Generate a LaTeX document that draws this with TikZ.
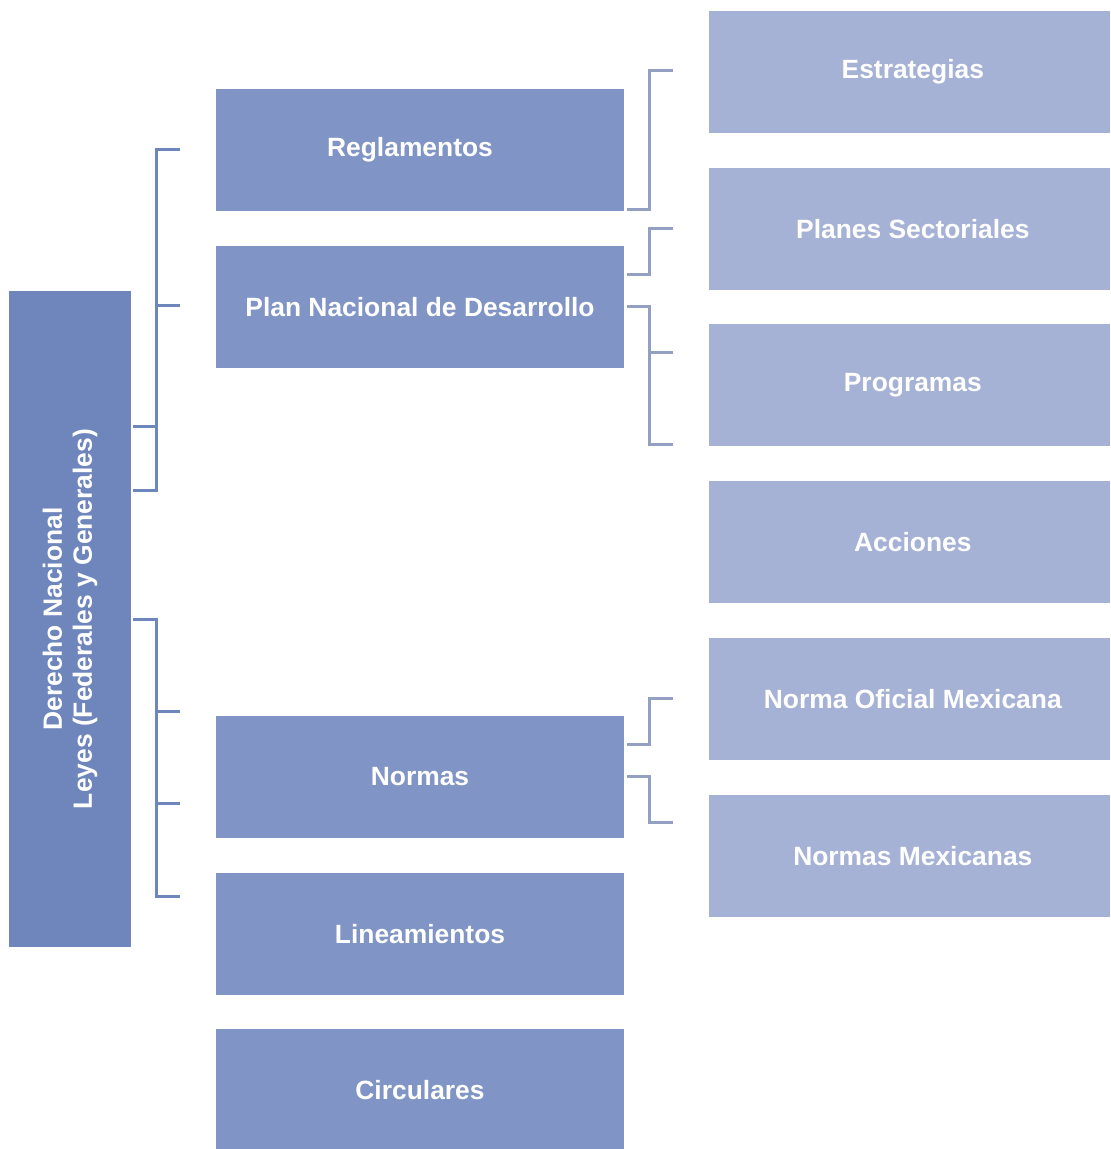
\documentclass[tikz,border=0pt]{standalone}
\usepackage{fontspec}
\setmainfont{Liberation Sans}
\usepackage{tikz}
\usetikzlibrary{positioning}
\definecolor{leftblue}{RGB}{111,134,189}
\definecolor{midblue}{RGB}{128,149,197}
\definecolor{rightblue}{RGB}{165,178,214}
\tikzset{
  mainbox/.style={rectangle, fill=leftblue, minimum width=492pt, minimum height=91.5pt,
    inner sep=0pt, text=white, font=\fontsize{19.8}{22.5}\selectfont\bfseries, align=center},
  midbox/.style={rectangle, fill=midblue, minimum width=306pt, minimum height=91.5pt,
    inner sep=0pt, text=white, font=\fontsize{19.8}{22.5}\selectfont\bfseries},
  rightbox/.style={rectangle, fill=rightblue, minimum width=300.75pt, minimum height=91.5pt,
    inner sep=0pt, text=white, font=\fontsize{19.8}{22.5}\selectfont\bfseries},
  brkL/.style={draw=leftblue, line width=2.25pt},
  brkR/.style={draw=rightblue!90!black, line width=2.25pt}
}
\begin{document}
\begin{tikzpicture}[x=0.75pt, y=-0.75pt]
    \useasboundingbox (0,0) rectangle (1110,1149);
    % Place nodes

    \node [mainbox, rotate=90] (derecho) at (70,619) {Derecho Nacional\\Leyes (Federales y Generales)};

    \node [midbox] (regla) at (420,150) {Reglamentos\hspace*{15pt}};
    \node [midbox] (plan) at (420,307) {Plan Nacional de Desarrollo};
    \node [midbox] (normas) at (420,777) {Normas};
    \node [midbox] (linea) at (420,934) {Lineamientos};
    \node [midbox] (circ) at (420,1090) {Circulares};

    \node [rightbox] (estra) at (909.5,72) {\hspace{5pt}Estrategias};
    \node [rightbox] (planes) at (909.5,229) {\hspace{5pt}Planes Sectoriales};
    \node [rightbox] (progr) at (909.5,385) {\hspace{5pt}Programas};
    \node [rightbox] (acc) at (909.5,542) {\hspace{5pt}Acciones};
    \node [rightbox] (nom) at (909.5,699) {\hspace{5pt}Norma Oficial Mexicana};
    \node [rightbox] (nmx) at (909.5,856) {\hspace{5pt}Normas Mexicanas};

    % Bracket ends
    \coordinate (l1top) at (180,149);
    \coordinate (l1mid) at (180,305);
    \coordinate (l1a) at (133,426);
    \coordinate (l1b) at (133,490);
    \coordinate (l2top) at (133,619);
    \coordinate (l2a) at (180,711);
    \coordinate (l2b) at (180,803);
    \coordinate (l2bot) at (180,896);

    \coordinate (r1a) at (673,71);
    \coordinate (r1b) at (627,209);
    \coordinate (r2a) at (673,228);
    \coordinate (r2b) at (627,274);
    \coordinate (r3a) at (627,306);
    \coordinate (r3b) at (673,352);
    \coordinate (r3c) at (673,444);
    \coordinate (r4a) at (673,698);
    \coordinate (r4b) at (627,744);
    \coordinate (r5a) at (627,776);
    \coordinate (r5b) at (673,822);

    % Draw brackets
    \path [brkL] (l1top) -| (156,490) -- (l1b);
    \path [brkL] (l1mid) -- (156,305);
    \path [brkL] (l1a) -- (156,426);
    \path [brkL] (l2top) -| (156,896) -- (l2bot);
    \path [brkL] (l2a) -- (156,711);
    \path [brkL] (l2b) -- (156,803);

    \path [brkR] (r1a) -| (649,209) -- (r1b);
    \path [brkR] (r2a) -| (649,274) -- (r2b);
    \path [brkR] (r3a) -| (649,444) -- (r3c);
    \path [brkR] (r3b) -- (649,352);
    \path [brkR] (r4a) -| (649,744) -- (r4b);
    \path [brkR] (r5a) -| (649,822) -- (r5b);

\end{tikzpicture}
\end{document}
